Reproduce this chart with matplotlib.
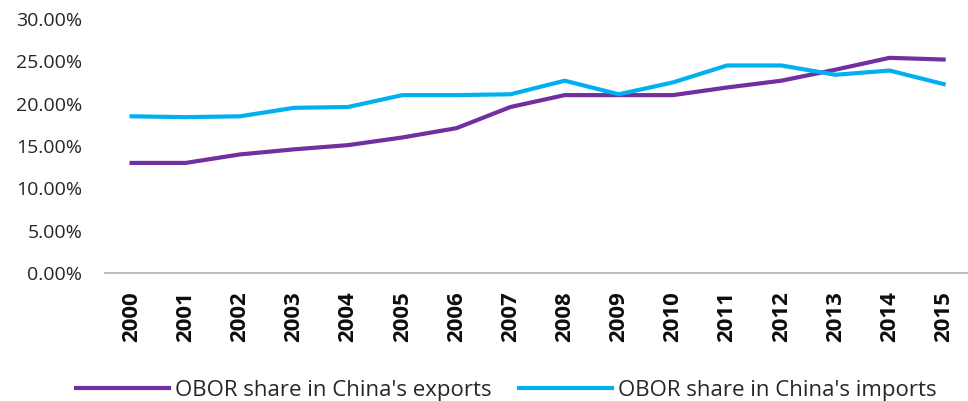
import matplotlib
matplotlib.use("Agg")
import matplotlib.pyplot as plt
from matplotlib.ticker import FuncFormatter

plt.rcParams["font.family"] = ["Open Sans", "DejaVu Sans"]

PURPLE = "#7030A0"
CYAN = "#00B0F0"

years = [str(y) for y in range(2000, 2016)]
exports = [13.0, 13.0, 14.0, 14.6, 15.1, 16.0, 17.1, 19.6,
           21.0, 21.0, 21.0, 21.9, 22.7, 24.0, 25.4, 25.2]
imports = [18.5, 18.4, 18.5, 19.5, 19.6, 21.0, 21.0, 21.1,
           22.7, 21.1, 22.5, 24.5, 24.5, 23.4, 23.9, 22.3]
y_ticks = [0, 5, 10, 15, 20, 25, 30]


def main():
    fig = plt.figure(figsize=(9.68, 4.01), dpi=100)
    ax = fig.add_axes([0.108, 0.319, 0.892, 0.634])

    x = list(range(len(years)))
    ax.plot(x, exports, color=PURPLE, linewidth=3, label="OBOR share in China's exports")
    ax.plot(x, imports, color=CYAN, linewidth=3, label="OBOR share in China's imports")

    ax.set_xlim(-0.5, 15.45)
    ax.set_ylim(0, 30)
    ax.set_yticks(y_ticks)
    ax.yaxis.set_major_formatter(FuncFormatter(lambda v, _: f"{v:.2f}%"))
    ax.set_xticks(x)
    ax.set_xticklabels(years, rotation=90, fontsize=16, fontweight="bold", color="#0d0d0d")

    ax.tick_params(axis="y", length=0, pad=16, labelsize=14, labelcolor="#262626")
    ax.tick_params(axis="x", length=0, pad=13)

    for side in ["top", "right", "left"]:
        ax.spines[side].set_visible(False)
    ax.spines["bottom"].set_color("#BFBFBF")
    ax.spines["bottom"].set_linewidth(1.5)

    fig.legend(
        loc="center",
        bbox_to_anchor=(0.523, 0.027),
        ncol=2,
        frameon=False,
        fontsize=16,
        handlelength=4.2,
        handletextpad=0.25,
        columnspacing=1.25,
        labelcolor="#262626",
    )

    fig.savefig("out.png", dpi=100, facecolor="white")
    plt.close(fig)


if __name__ == "__main__":
    main()
